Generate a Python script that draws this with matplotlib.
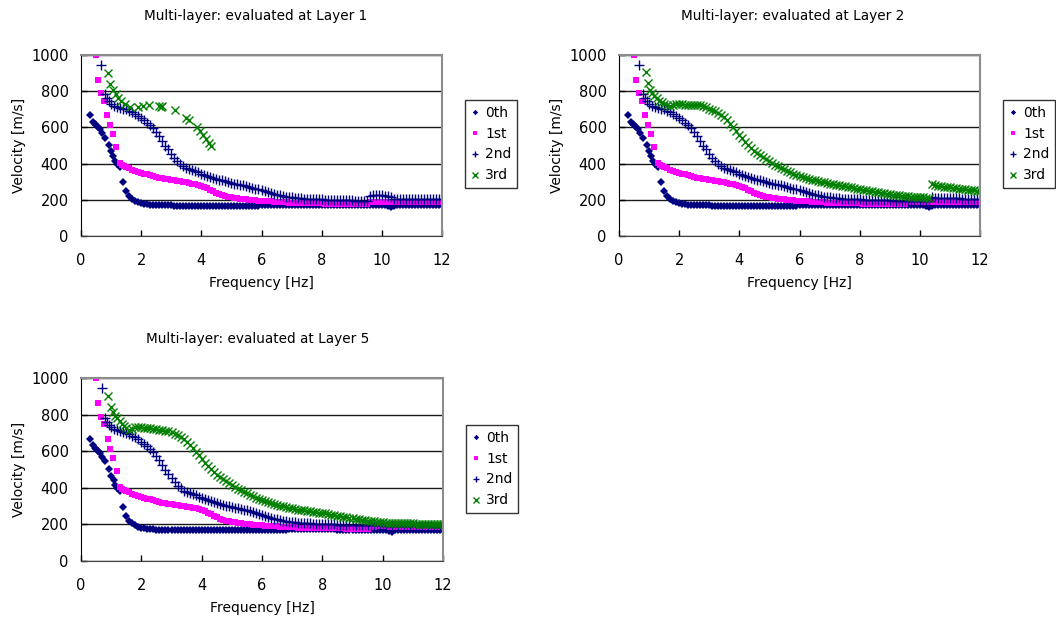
import numpy as np
import matplotlib.pyplot as plt

plt.rcParams['font.family'] = ['DejaVu Sans']

# regular frequency samples of the dispersion curves [Hz]
freq = [1.5, 1.6, 1.7, 1.8, 1.9, 2.0, 2.1, 2.2, 2.3, 2.4,
        2.5, 2.6, 2.7, 2.8, 2.9, 3.0, 3.1, 3.2, 3.3, 3.4,
        3.5, 3.6, 3.7, 3.8, 3.9, 4.0, 4.1, 4.2, 4.3, 4.4,
        4.5, 4.6, 4.7, 4.8, 4.9, 5.0, 5.1, 5.2, 5.3, 5.4,
        5.5, 5.6, 5.7, 5.8, 5.9, 6.0, 6.1, 6.2, 6.3, 6.4,
        6.5, 6.6, 6.7, 6.8, 6.9, 7.0, 7.1, 7.2, 7.3, 7.4,
        7.5, 7.6, 7.7, 7.8, 7.9, 8.0, 8.1, 8.2, 8.3, 8.4,
        8.5, 8.6, 8.7, 8.8, 8.9, 9.0, 9.1, 9.2, 9.3, 9.4,
        9.5, 9.6, 9.7, 9.8, 9.9, 10.0, 10.1, 10.2, 10.3, 10.4,
        10.5, 10.6, 10.7, 10.8, 10.9, 11.0, 11.1, 11.2, 11.3, 11.4,
        11.5, 11.6, 11.7, 11.8, 11.9, 12.0]

# 0th mode (same at every layer)
f0_low = [0.31, 0.40, 0.45, 0.50, 0.56, 0.62, 0.70, 0.81, 0.92, 1.00, 1.08, 1.14, 1.20, 1.28, 1.40]
v0_low = [666, 632, 620, 612, 602, 590, 571, 544, 502, 467, 441, 416, 400, 380, 297]
v0 = [247, 220, 205, 194, 186, 181, 178, 176, 174, 173,
      172, 171, 170, 170, 169, 169, 168, 168, 168, 168,
      168, 168, 168, 168, 168, 168, 168, 168, 168, 168,
      168, 168, 168, 168, 168, 168, 168, 168, 168, 168,
      168, 168, 168, 168, 168, 169, 170, 170, 171, 171,
      172, 172, 172, 172, 173, 173, 173, 173, 173, 173,
      173, 173, 173, 173, 173, 173, 173, 173, 173, 173,
      172, 172, 172, 172, 172, 172, 172, 172, 172, 172,
      172, 172, 172, 172, 172, 171, 170, 166, 161, 168,
      172, 172, 172, 172, 172, 172, 172, 172, 172, 172,
      172, 172, 172, 172, 172, 172]

# 1st mode
f1_low = [0.49, 0.55, 0.66, 0.77, 0.88, 0.96, 1.07, 1.18, 1.29, 1.35, 1.42]
v1_low = [1000, 863, 789, 746, 669, 613, 562, 490, 405, 395, 389]
v1 = [383, 375, 366, 360, 355, 349, 345, 341, 337, 333,
      328, 323, 319, 316, 313, 311, 308, 305, 302, 299,
      296, 293, 290, 287, 283, 278, 272, 264, 256, 247,
      239, 232, 226, 221, 217, 214, 211, 208, 206, 204,
      202, 200, 198, 197, 195, 194, 193, 192, 191, 190,
      189, 188, 187, 186, 185, 184, 184, 183, 183, 182,
      182, 181, 181, 180, 180, 180, 179, 179, 179, 178,
      178, 178, 178, 177, 177, 177, 177, 177, 176, 176,
      176, 186, 188, 189, 189, 189, 189, 188, 188, 188,
      188, 188, 188, 188, 188, 188, 188, 188, 188, 188,
      188, 188, 188, 188, 188, 188]

# 2nd mode, common part up to 9.5 Hz
f2_low = [0.68, 0.80, 0.86, 0.92, 1.00, 1.10, 1.20, 1.30, 1.40]
v2_low = [946, 782, 760, 745, 730, 720, 714, 708, 704]
v2 = [700, 693, 685, 675, 664, 652, 640, 627, 612, 595,
      575, 550, 525, 500, 478, 455, 432, 412, 397, 385,
      377, 370, 364, 358, 351, 345, 339, 333, 327, 322,
      317, 312, 307, 302, 298, 294, 290, 287, 284, 280,
      276, 272, 267, 262, 257, 252, 247, 242, 237, 232,
      228, 224, 221, 218, 215, 213, 211, 209, 208, 207,
      206, 205, 204, 203, 202, 202, 201, 201, 200, 200,
      199, 199, 198, 198, 197, 197, 196, 196, 195, 195,
      195]

# 2nd mode above 9.5 Hz, per layer
v2_tail_l1 = [222, 224, 225, 225, 224, 222, 220, 218,
              206, 205, 205, 204, 204, 204, 203, 203, 203, 203, 202, 202, 202, 202, 202, 202, 202]
v2_tail_l2 = [195, 195, 195, 195, 194, 194, 194, 194,
              213, 212, 211, 210, 210, 209, 209, 208, 208, 208, 207, 207, 207, 207, 206, 206, 206]
v2_tail_l5 = [195, 195, 194, 194, 194, 193, 193, 193, 192, 192,
              192, 191, 191, 191, 190, 190, 190, 190, 189, 189, 189, 188, 188, 188, 187]

# 3rd mode, layer 1 (short branch only)
f3_l1 = [0.90, 0.98, 1.07, 1.15, 1.24, 1.33, 1.45, 1.62, 1.88, 2.06, 2.25, 2.58,
         2.66, 2.70, 3.12, 3.48, 3.58, 3.84, 3.95, 4.05, 4.15, 4.25, 4.33]
v3_l1 = [900, 838, 805, 785, 765, 745, 728, 712, 710, 720, 724, 716,
         714, 718, 697, 652, 640, 600, 578, 556, 535, 516, 500]

# 3rd mode, layer 2
f3_low_l2 = [0.89, 0.95, 1.02, 1.10, 1.18, 1.26, 1.34, 1.42]
v3_low_l2 = [905, 845, 808, 790, 775, 760, 748, 740]
v3_l2 = [732, 724, 720, 726, 730, 730, 728, 726, 724, 722,
         722, 724, 726, 720, 712, 704, 696, 688, 680, 670,
         655, 640, 620, 600, 580, 560, 540, 520, 502, 487,
         472, 459, 447, 436, 425, 414, 404, 394, 385, 377,
         369, 361, 353, 345, 337, 330, 324, 319, 314, 310,
         307, 303, 300, 296, 293, 290, 286, 283, 280, 277,
         274, 271, 268, 265, 262, 259, 256, 253, 250, 247,
         244, 241, 238, 236, 234, 231, 229, 227, 225, 223,
         221, 219, 217, 216, 215, 214, 213, 212, 210, 288,
         282, 278, 274, 272, 270, 268, 266, 264, 262, 260,
         258, 256, 254, 252, 250, 248]

# 3rd mode, layer 5
f3_low_l5 = [0.91, 1.00, 1.06, 1.12, 1.20, 1.28, 1.36, 1.44]
v3_low_l5 = [900, 840, 812, 795, 780, 765, 750, 735]
v3_l5 = [726, 718, 722, 730, 732, 731, 729, 727, 725, 722,
         720, 718, 716, 713, 708, 703, 696, 688, 678, 666,
         650, 635, 617, 598, 578, 558, 538, 520, 503, 488,
         472, 459, 447, 436, 425, 414, 404, 395, 386, 378,
         370, 362, 354, 346, 339, 332, 326, 320, 315, 310,
         306, 302, 298, 294, 290, 287, 284, 281, 278, 276,
         273, 271, 268, 266, 264, 262, 260, 257, 254, 251,
         248, 245, 242, 239, 236, 233, 230, 227, 225, 222,
         220, 218, 216, 214, 212, 211, 210, 209, 208, 207,
         206, 206, 205, 205, 205, 205, 204, 204, 204, 203,
         203, 202, 202, 201, 201, 200]

mode_labels = ['0th', '1st', '2nd', '3rd']

panels = [
    ('Multi-layer: evaluated at Layer 1', v2_tail_l1, (f3_l1, v3_l1)),
    ('Multi-layer: evaluated at Layer 2', v2_tail_l2, (f3_low_l2 + freq, v3_low_l2 + v3_l2)),
    ('Multi-layer: evaluated at Layer 5', v2_tail_l5, (f3_low_l5 + freq, v3_low_l5 + v3_l5)),
]

W, H = 1056, 621
fig = plt.figure(figsize=(W / 100, H / 100), dpi=100)

# axes boxes in pixels: left, right, top, bottom
boxes = [(81, 442, 55, 236), (619, 980, 55, 236), (81, 443, 378, 561)]
legend_pos = [(465, 100), (1003, 100), (466, 425)]
title_pos = [(256, 16), (793, 16), (258, 339)]

styles = [
    dict(marker='D', color='#000080', markersize=3.6, markeredgewidth=0),
    dict(marker='s', color='#FF00FF', markersize=3.8, markeredgewidth=0),
    dict(marker='+', color='#000080', markersize=6.5, markeredgewidth=1.0),
    dict(marker='x', color='#008000', markersize=5.5, markeredgewidth=1.0),
]

for (title, tail2, (f3, v3)), (l, r, t, b), (lx, ly), (tx, ty) in zip(panels, boxes, legend_pos, title_pos):
    ax = fig.add_axes([l / W, 1 - b / H, (r - l) / W, (b - t) / H])
    series = [
        (f0_low + freq, v0_low + v0),
        (f1_low + freq, v1_low + v1),
        (f2_low + freq, v2_low + v2 + tail2),
        (f3, v3),
    ]
    for (fx, vy), st, lab in zip(series, styles, mode_labels):
        ax.plot(fx, vy, linestyle='none', label=lab, **st)

    ax.set_xlim(0, 12)
    ax.set_ylim(0, 1000)
    ax.set_xticks(np.arange(0, 13, 2))
    ax.set_yticks(np.arange(0, 1001, 200))
    ax.yaxis.grid(True, color='#1a1a1a', linewidth=1.0)
    ax.set_axisbelow(True)
    ax.tick_params(axis='x', direction='in', length=4, width=1, pad=12, labelsize=10.5)
    ax.tick_params(axis='y', direction='in', length=4, width=1, pad=9, labelsize=10.5)
    ax.spines['left'].set_color('black')
    ax.spines['bottom'].set_color('#404040')
    for s in ('top', 'right'):
        ax.spines[s].set_color('#8c8c8c')
        ax.spines[s].set_linewidth(1.5)
    ax.set_xlabel('Frequency [Hz]', fontsize=10, labelpad=6)
    ax.set_ylabel('Velocity [m/s]', fontsize=10, labelpad=4)

    fig.text(tx / W, 1 - ty / H, title, ha='center', va='center', fontsize=9.8)

    leg = ax.legend(loc='upper left', bbox_to_anchor=(lx / W, 1 - ly / H),
                    bbox_transform=fig.transFigure, fancybox=False, frameon=True,
                    fontsize=10, handlelength=0.6, handletextpad=0.45, numpoints=1,
                    markerscale=0.75, labelspacing=0.5, borderpad=0.4, borderaxespad=0)
    leg.get_frame().set_edgecolor('black')
    leg.get_frame().set_linewidth(1.0)

fig.savefig('out.png', dpi=100, facecolor='white')
